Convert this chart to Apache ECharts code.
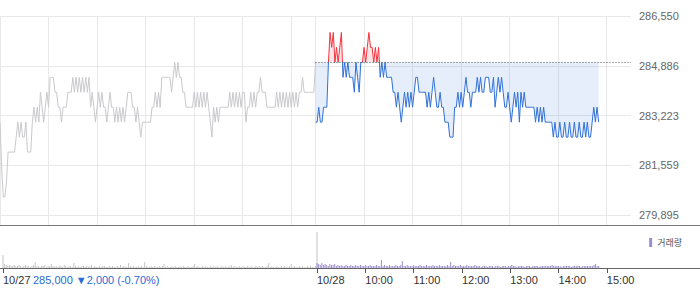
<!DOCTYPE html>
<html>
<head>
<meta charset="utf-8">
<script src="https://cdn.jsdelivr.net/npm/echarts@6/dist/echarts.min.js"></script>
<style>
html,body{margin:0;padding:0;background:#fff;}
#chart{width:700px;height:289px;}
</style>
</head>
<body>
<div id="chart"></div>
<script>
// ---- data (minute offsets: 10/27 09:00 = 0, 10/28 09:00 = 390) ----
const stepMinutes = 2;
const day2Start = 390;
const prevClose = 285000;

const day1Prices = [
283000,281500,280500,280500,281000,282000,282000,282000,282000,282000,
282500,283000,282500,283000,282500,282500,283000,282000,282000,282000,
283000,283500,283000,283500,283000,284000,283500,283000,283500,284000,
283500,284500,284500,284500,284000,284000,283500,283500,283000,283500,
283500,283500,284000,284000,284000,284500,284000,284500,284000,284500,
284000,284500,284000,284500,284000,284500,283500,284000,283500,283000,
283500,284000,283500,284000,283500,283500,283000,283500,284000,283500,
283500,283000,283500,283000,283500,283000,283500,283000,283500,284000,
284000,284000,283500,283500,283000,283500,283000,282500,283000,283000,
283000,283000,283000,283000,283500,283500,284000,283500,284000,283500,
284500,284500,284500,284500,284500,284500,284000,284500,285000,284500,
285000,284500,284500,284000,284000,283500,283500,283500,283500,283500,
284000,283500,284000,283500,284000,283500,284000,283500,284000,283500,
283000,282500,283500,283000,283500,283000,283500,283500,283500,283500,
283500,283500,284000,283500,284000,283500,284000,283500,284000,283500,
284000,284000,283000,283500,283500,284000,283500,284000,283500,284000,
284000,284500,284000,284000,284000,283500,283500,283500,283500,283500,
283500,284000,283500,284000,283500,284000,283500,284000,283500,284000,
283500,284000,283500,284000,283500,284000,284000,284500,284000,284000,
284000,284000,284000,284000,284000,285000
];

const day2Prices = [
283000,283000,283500,283000,283000,283500,283500,283500,285000,286000,
285500,286000,285000,285500,285000,285500,286000,284500,285000,284500,
285000,284500,284500,284500,284000,285000,284500,284000,285000,285000,
285500,285000,285500,286000,285500,285500,285000,285500,285000,285500,
284500,285000,284500,285000,284500,284500,284500,284500,284000,284000,
283500,284000,283500,283000,283500,284000,283500,284000,283500,284000,
283500,284000,284500,284500,284000,284000,284000,284000,284000,283500,
284000,283500,284000,284500,284000,283500,283500,284000,283500,283500,
283000,283000,283000,282500,282500,282500,283500,283500,284000,283500,
284000,283500,284000,284500,284000,284000,283500,284000,284000,284000,
284500,284000,284500,284000,284000,284500,284500,284500,284000,284000,
284500,283500,284000,284500,284000,284500,284000,283500,283500,284000,
283500,283000,283500,284000,283500,284000,283000,284000,283500,284000,
283500,283500,283500,283500,283500,283500,283000,283500,283000,283500,
283000,283500,283000,283000,283000,283000,283000,282500,283000,282500,
282500,283000,282500,282500,283000,282500,282500,283000,282500,282500,
283000,282500,282500,283000,282500,282500,283000,282500,283000,282500,
282500,283000,283500,283000,283500,283000
];

const day1Volume = [
13,4,3,2,3,2,2,3,2,2, 3,2,1,2,3,2,2,1,2,3,
6,2,2,1,2,2,3,1,2,2, 4,2,1,2,1,2,2,1,3,2,
1,2,2,1,5,2,1,2,1,2, 2,1,2,1,2,3,1,2,1,1,
2,1,2,2,1,1,2,1,2,1, 1,2,1,3,1,2,1,1,5,2,
1,2,1,1,2,1,2,1,6,2, 1,1,2,1,2,1,1,2,1,2,
4,1,2,1,1,2,1,2,1,1, 2,1,2,1,1,2,1,1,2,4,
1,2,1,1,2,1,2,1,1,2, 1,2,1,2,1,1,2,1,2,1,
1,2,3,1,2,1,1,2,1,2, 1,1,2,1,2,1,1,2,1,2,
1,2,1,1,2,5,1,2,1,1, 2,1,1,2,1,2,1,1,2,4,
1,2,1,1,2,1,2,1,1,2, 1,2,1,1,2,36
];

const day2Volume = [
5,4,3,5,3,4,3,2,4,3, 3,4,2,3,2,3,2,2,3,2,
2,3,2,2,3,2,2,3,2,2, 3,2,2,3,2,2,2,3,2,2,
8,2,3,2,2,3,2,2,2,3, 2,2,3,7,2,2,3,2,2,2,
3,2,2,2,3,2,2,2,3,2, 2,2,3,2,2,2,3,2,2,2,
2,3,2,6,2,3,2,2,2,3, 2,2,2,3,2,2,2,2,3,2,
2,2,1,2,2,2,1,2,2,2, 1,2,2,2,1,2,2,2,1,2,
2,3,2,2,1,2,2,2,2,1, 2,2,2,1,2,2,2,2,1,2,
2,2,2,2,2,2,3,2,2,2, 2,2,1,2,2,2,2,2,1,2,
2,2,2,2,1,2,2,2,2,2, 2,2,3,4,2,2
];

const gridMinutes = [0,60,120,180,240,300,360,390,450,510,570,630,690,750];
const labelMinutes = [0,390,450,510,570,630,690,750];
const labelTexts = ['10/27','10/28','10:00','11:00','12:00','13:00','14:00','15:00'];
const yTickValues = [279895,281558.75,283222.5,284886.25,286550];
const summaryText = '285,000 \u25BC2,000 (-0.70%)';

// ---- build ----
const d1 = day1Prices.map((p,i)=>[i*stepMinutes,p]);
const d2 = day2Prices.map((p,i)=>[day2Start+i*stepMinutes,p]);
const v1 = day1Volume.map((v,i)=>[i*stepMinutes,v]);
const v2 = day2Volume.map((v,i)=>[day2Start+i*stepMinutes,v]);

function fmtNum(v){
  return String(Math.round(v)).replace(/\B(?=(\d{3})+(?!\d))/g, ',');
}
const fontFam = '"Liberation Sans", Arial, "Noto Sans CJK KR", sans-serif';

const chart = echarts.init(document.getElementById('chart'), null, {renderer:'svg'});
chart.setOption({
  animation:false,
  textStyle:{fontFamily:fontFam},
  grid:[
    {left:0,right:69,top:16,height:209},
    {left:0,right:69,top:226,height:42}
  ],
  legend:{
    data:['거래량'], right:13, top:233, icon:'rect', itemWidth:3, itemHeight:9,
    selectedMode:false,
    textStyle:{fontSize:9,color:'#555',fontFamily:'"Noto Sans CJK KR", sans-serif'}
  },
  visualMap:{
    type:'piecewise', show:false, seriesIndex:1, dimension:1,
    pieces:[
      {gt:prevClose,lte:300000,color:'#f5323c'},
      {gte:270000,lte:prevClose,color:'#2f70d8'}
    ],
    outOfRange:{color:'#2f70d8'}
  },
  xAxis:[
    {gridIndex:0,type:'value',min:0,max:780,
     axisLine:{show:false},
     axisTick:{show:false,customValues:gridMinutes},
     axisLabel:{show:false},
     splitLine:{show:true,lineStyle:{color:'#e8e8e8',width:1}}},
    {gridIndex:1,type:'value',min:0,max:780,
     axisLine:{show:false},
     axisTick:{show:true,customValues:labelMinutes,length:5,lineStyle:{color:'#555'}},
     axisLabel:{customValues:labelMinutes,align:'left',margin:6,color:'#333',fontSize:11,
       formatter:(v)=>{const k=labelMinutes.indexOf(Math.round(v));return k>=0?labelTexts[k]:'';}},
     splitLine:{show:false}}
  ],
  yAxis:[
    {gridIndex:0,type:'value',position:'right',min:279562.25,max:286550,
     axisLine:{show:false},
     axisTick:{show:false,customValues:yTickValues},
     axisLabel:{customValues:yTickValues,color:'#666',fontSize:11,margin:8,formatter:fmtNum},
     splitLine:{show:true,lineStyle:{color:'#e8e8e8',width:1}}},
    {gridIndex:1,type:'value',min:0,max:42,show:false,splitLine:{show:false}}
  ],
  series:[
    {type:'line',name:'10/27',xAxisIndex:0,yAxisIndex:0,data:d1,showSymbol:false,symbol:'none',
     lineStyle:{color:'#c9c9cd',width:1},itemStyle:{color:'#c9c9cd'},z:3},
    {type:'line',name:'10/28',xAxisIndex:0,yAxisIndex:0,data:d2,showSymbol:false,symbol:'none',
     lineStyle:{width:1},areaStyle:{origin:prevClose,opacity:0.12},z:4,
     markLine:{silent:true,symbol:'none',label:{show:false},
       lineStyle:{color:'#555',type:[1,2],width:1},
       data:[[{coord:[day2Start,prevClose]},{coord:[780,prevClose]}]]}},
    {type:'bar',name:'10/27 거래량',xAxisIndex:1,yAxisIndex:1,data:v1,barWidth:1,
     itemStyle:{color:'#c6c6c6'}},
    {type:'bar',name:'거래량',xAxisIndex:1,yAxisIndex:1,data:v2,barWidth:1,barGap:'-100%',
     itemStyle:{color:'#9b8dcf'}}
  ],
  graphic:[
    {type:'line',silent:true,shape:{x1:0,y1:225.5,x2:700,y2:225.5},style:{stroke:'#7a7a7a',lineWidth:1}},
    {type:'line',silent:true,shape:{x1:0,y1:268.5,x2:700,y2:268.5},style:{stroke:'#666',lineWidth:1}},
    {type:'text',left:33,top:274,style:{text:summaryText,fill:'#2a6ad6',font:'11px '+fontFam}}
  ]
});
</script>
</body>
</html>
